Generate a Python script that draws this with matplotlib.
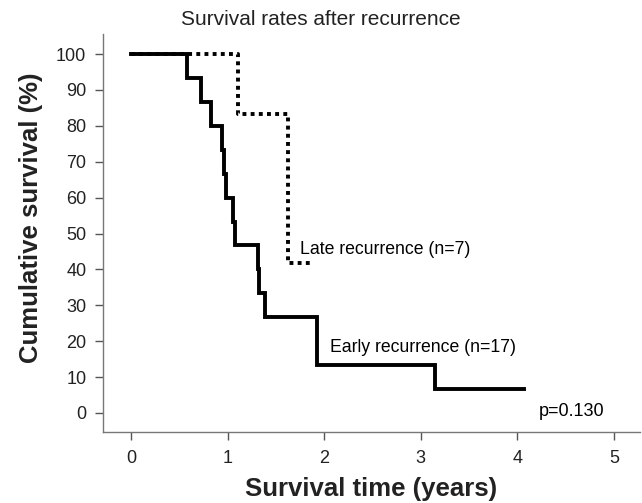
import matplotlib.pyplot as plt

plt.rcParams['font.family'] = ['Liberation Sans', 'DejaVu Sans']

# Kaplan-Meier steps (time in years, survival in %)
early_time = [0, 0.58, 0.72, 0.83, 0.94, 0.96, 0.98, 1.06, 1.08, 1.31, 1.33, 1.39, 1.93, 3.15, 4.07]
early_surv = [100, 93.3, 86.7, 80.0, 73.3, 66.7, 60.0, 53.3, 46.7, 40.0, 33.3, 26.7, 13.3, 6.7, 6.7]

late_time = [0, 1.11, 1.63, 1.88]
late_surv = [100, 83.3, 41.7, 41.7]

x_ticks = [0, 1, 2, 3, 4, 5]
y_ticks = list(range(0, 101, 10))

fig = plt.figure(figsize=(6.42, 5.03), dpi=100)
ax = fig.add_axes([0.1604, 0.1412, 0.8365, 0.7912])

ax.step(early_time, early_surv, where='post', color='black', lw=2.8,
        solid_joinstyle='miter', zorder=3)
ax.step(late_time, late_surv, where='post', color='black', lw=2.8,
        linestyle=(0, (1, 1.1)), dash_capstyle='butt', zorder=2)

ax.text(1.75, 45.5, 'Late recurrence (n=7)', fontsize=12.7, va='center', ha='left')
ax.text(2.06, 18.3, 'Early recurrence (n=17)', fontsize=12.7, va='center', ha='left')
ax.text(4.22, 0.3, 'p=0.130', fontsize=13, va='center', ha='left')

ax.set_xlim(-0.29, 5.27)
ax.set_ylim(-5.3, 105.6)
ax.set_xticks(x_ticks)
ax.set_yticks(y_ticks)

for side in ['top', 'right']:
    ax.spines[side].set_visible(False)
for side in ['left', 'bottom']:
    ax.spines[side].set_color('#777777')
    ax.spines[side].set_linewidth(1.0)
ax.tick_params(axis='both', colors='#555555', labelcolor='#222222',
               labelsize=13, length=6, width=1.0, direction='out', pad=6)
ax.tick_params(axis='x', pad=7)

ax.set_xlabel('Survival time (years)', fontsize=18.5, fontweight='bold',
              color='#222222', labelpad=7)
ax.set_ylabel('Cumulative survival (%)', fontsize=18.5, fontweight='bold',
              color='#222222')
ax.yaxis.set_label_coords(-0.112, 0.538)
fig.text(0.5, 0.962, 'Survival rates after recurrence', fontsize=15,
         ha='center', va='center', color='#222222')

fig.savefig('out.png', dpi=100)
